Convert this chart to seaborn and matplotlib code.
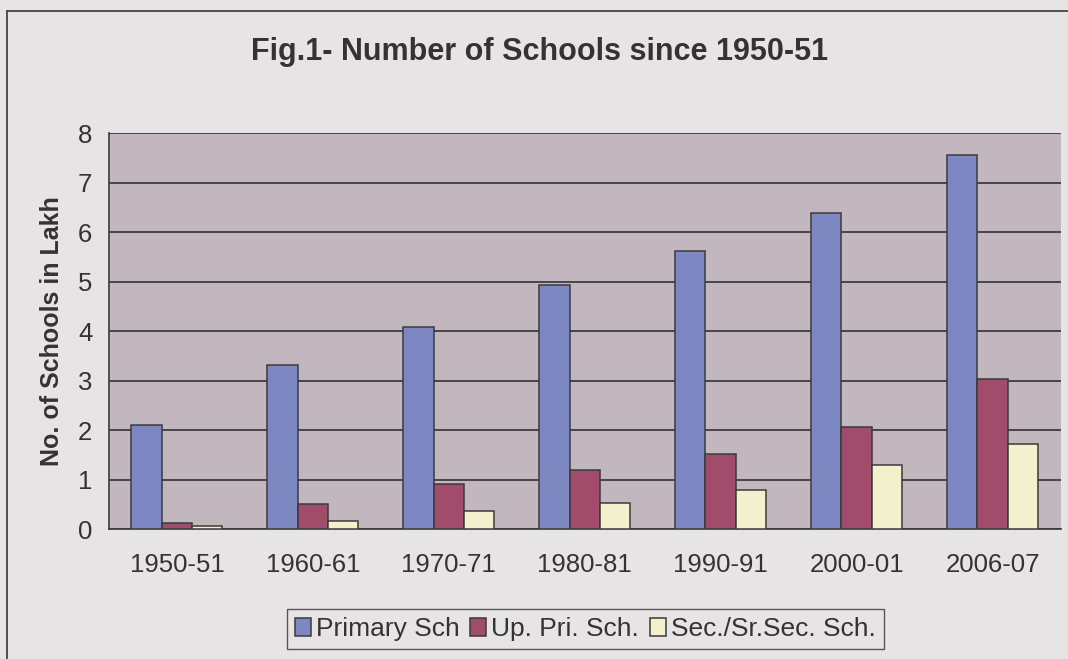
import pandas as pd
import seaborn as sns
import matplotlib.pyplot as plt
from matplotlib.lines import Line2D

years = ['1950-51', '1960-61', '1970-71', '1980-81', '1990-91', '2000-01', '2006-07']
primary = [2.10, 3.31, 4.08, 4.94, 5.61, 6.38, 7.56]
upper_primary = [0.13, 0.50, 0.91, 1.19, 1.52, 2.06, 3.03]
secondary = [0.07, 0.17, 0.37, 0.52, 0.80, 1.29, 1.73]
series = ['Primary Sch', 'Up. Pri. Sch.', 'Sec./Sr.Sec. Sch.']

df = pd.DataFrame({'Year': years, series[0]: primary,
                   series[1]: upper_primary, series[2]: secondary})
df = df.melt(id_vars='Year', var_name='Type', value_name='Schools')

sns.set_style('white')
plt.rcParams['font.family'] = ['Liberation Sans', 'DejaVu Sans']

fig = plt.figure(figsize=(10.68, 6.59), dpi=100, facecolor='#e7e4e6')
ax = fig.add_axes([0.102, 0.197, 0.891, 0.601])
ax.set_facecolor('#c2b7bf')

sns.barplot(data=df, x='Year', y='Schools', hue='Type', ax=ax,
            palette=['#7d88c2', '#a24c6c', '#f3f0cd'], width=0.67,
            edgecolor='#3a3a3a', linewidth=1.1, saturation=1, zorder=3)

ax.set_ylim(0, 8)
ax.set_xlim(-0.5, 6.5)
ax.set_yticks(range(9))
ax.yaxis.grid(True, color='#3c3c3c', linewidth=1.3, zorder=1)
ax.set_axisbelow(True)
for s in ['top', 'right']:
    ax.spines[s].set_visible(False)
for s in ['left', 'bottom']:
    ax.spines[s].set_color('#3a3a3a')
    ax.spines[s].set_linewidth(1.2)
ax.set_xticks([i - 0.5 for i in range(8)], minor=True)
ax.tick_params(axis='x', which='major', length=0, labelsize=18.5, pad=17, colors='#333333')
ax.tick_params(axis='x', which='minor', length=6, color='#3a3a3a', width=1.2, direction='in')
ax.tick_params(axis='y', length=6, color='#3a3a3a', width=1.2, labelsize=18.5, colors='#333333', pad=6)
ax.set_xlabel('')
ax.set_ylabel('No. of Schools in Lakh', fontsize=18, fontweight='bold', color='#333333', labelpad=10)

fig.text(0.505, 0.921, 'Fig.1- Number of Schools since 1950-51', ha='center', va='center',
         fontsize=22, fontweight='bold', color='#333333')

handles, labels = ax.get_legend_handles_labels()
ax.legend(handles, labels, loc='center', bbox_to_anchor=(0.548, 0.0455),
          bbox_transform=fig.transFigure, ncol=3, frameon=True, fancybox=False,
          edgecolor='#333333', facecolor='#e7e4e6', fontsize=19, handlelength=0.6,
          handleheight=0.7, handletextpad=0.2, columnspacing=0.4, borderpad=0.3,
          labelcolor='#333333')

# outer frame (top and left edges visible)
fig.add_artist(Line2D([0.0065, 1.0], [0.983, 0.983], transform=fig.transFigure, color='#444444', lw=1.3))
fig.add_artist(Line2D([0.0065, 0.0065], [0.0, 0.983], transform=fig.transFigure, color='#444444', lw=1.3))

fig.savefig('out.png', dpi=100, facecolor=fig.get_facecolor())
